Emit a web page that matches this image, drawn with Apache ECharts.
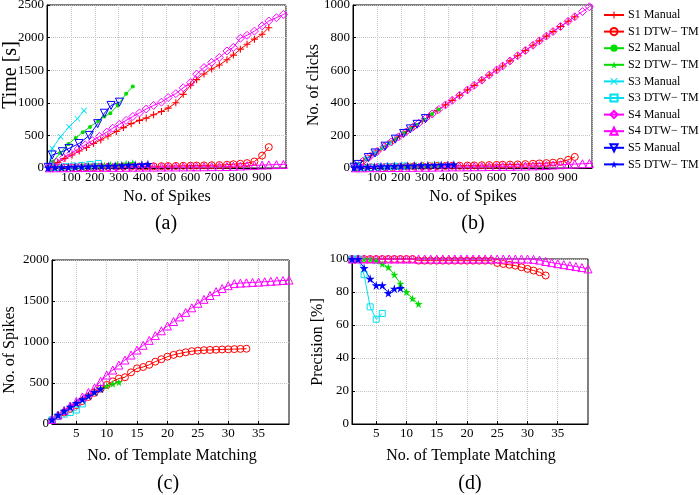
<!DOCTYPE html>
<html>
<head>
<meta charset="utf-8">
<script src="https://cdn.jsdelivr.net/npm/echarts@6/dist/echarts.min.js"></script>
<style>html,body{margin:0;padding:0;background:#fff}#c{width:699px;height:495px}</style>
</head>
<body>
<div id="c"></div>
<script>
// ---------- Panels (a) and (b): x = No. of Spikes ----------
const s1Spikes = [15, 45, 75, 105, 135, 165, 195, 225, 255, 290, 320, 352, 387, 415, 446, 479, 507, 539, 570, 601, 626, 657, 689, 721, 753, 780, 809, 837, 868, 900, 928];
const s1ManualTime = [25, 85, 145, 200, 260, 315, 375, 430, 490, 560, 620, 680, 730, 765, 817, 867, 918, 1000, 1130, 1270, 1355, 1442, 1518, 1579, 1660, 1732, 1823, 1899, 1976, 2052, 2152];
const s1DtwTime = [3, 5, 6, 8, 10, 12, 13, 15, 16, 18, 20, 21, 23, 24, 26, 28, 30, 32, 34, 36, 38, 40, 42, 45, 50, 58, 65, 75, 100, 190, 320];
const s1ManualClicks = [15, 45, 75, 105, 135, 165, 195, 225, 255, 290, 320, 352, 387, 415, 446, 479, 507, 539, 570, 601, 626, 657, 689, 721, 753, 780, 809, 837, 868, 900, 928];
const s1DtwClicks = [2, 3, 4, 5, 6, 7, 8, 9, 10, 10, 11, 12, 13, 14, 14, 15, 16, 17, 18, 19, 20, 21, 22, 24, 26, 28, 30, 33, 38, 50, 68];

const s2Spikes = [25, 55, 90, 120, 150, 180, 214, 240, 265, 296, 331, 359];
const s2ManualTime = [100, 230, 370, 460, 550, 630, 720, 790, 840, 960, 1140, 1250];
const s2DtwTime = [5, 10, 15, 20, 25, 30, 35, 40, 50, 55, 65, 75];
const s2ManualClicks = [25, 55, 90, 120, 150, 180, 214, 240, 265, 296, 331, 359];
const s2DtwClicks = [2, 4, 5, 7, 8, 10, 11, 13, 14, 16, 18, 20];

const s3Spikes = [8, 22, 57, 92, 127, 155];
const s3ManualTime = [40, 300, 480, 630, 755, 880];
const s3ManualClicks = [8, 22, 57, 92, 127, 155];
const s3DtwSpikes = [35, 75, 110, 145, 180, 215];
const s3DtwTime = [10, 20, 30, 40, 55, 70];
const s3DtwClicks = [2, 4, 6, 8, 10, 12];

const s4Spikes = [10, 40, 70, 100, 130, 160, 190, 220, 250, 275, 303, 331, 359, 387, 415, 446, 479, 507, 539, 570, 601, 626, 657, 689, 721, 753, 780, 809, 837, 868, 900, 928, 960, 989, 1020];
const s4ManualTime = [20, 90, 160, 225, 290, 355, 420, 485, 550, 610, 670, 730, 790, 845, 905, 960, 1010, 1080, 1140, 1230, 1310, 1440, 1540, 1620, 1695, 1795, 1850, 1990, 2035, 2100, 2180, 2255, 2305, 2355, 2410];
const s4DtwTime = [2, 3, 4, 5, 6, 7, 8, 9, 10, 10, 11, 12, 12, 13, 14, 14, 15, 16, 16, 17, 18, 18, 19, 20, 21, 23, 26, 30, 35, 40, 45, 48, 52, 55, 58];
const s4ManualClicks = [10, 40, 70, 100, 130, 160, 190, 220, 250, 275, 303, 331, 359, 387, 415, 446, 479, 507, 539, 570, 601, 626, 657, 689, 721, 753, 780, 809, 837, 868, 900, 928, 960, 989, 1020];
const s4DtwClicks = [1, 1, 2, 2, 3, 3, 3, 4, 4, 5, 5, 5, 6, 6, 7, 7, 7, 8, 8, 9, 9, 10, 10, 11, 12, 13, 14, 16, 18, 20, 22, 24, 26, 28, 30];

const s5Spikes = [5, 22, 64, 92, 134, 177, 212, 240, 268, 303];
const s5ManualTime = [10, 200, 250, 300, 375, 500, 680, 840, 960, 1010];
const s5ManualClicks = [5, 22, 64, 92, 134, 177, 212, 240, 268, 303];
const s5DtwSpikes = [5, 33, 61, 89, 117, 145, 173, 201, 229, 257, 285, 313, 341, 369, 397, 422];
const s5DtwTime = [5, 10, 12, 15, 18, 20, 22, 25, 28, 30, 35, 40, 45, 50, 55, 60];
const s5DtwClicks = [3, 5, 7, 8, 10, 11, 12, 13, 14, 15, 16, 17, 18, 19, 20, 21];

// ---------- Panels (c) and (d): x = No. of Template Matching ----------
const tmIdx = [1, 2, 3, 4, 5, 6, 7, 8, 9, 10, 11, 12, 13, 14, 15, 16, 17, 18, 19, 20, 21, 22, 23, 24, 25, 26, 27, 28, 29, 30, 31, 32, 33, 34, 35, 36, 37, 38, 39, 40];
const s1TmSpikes = [50, 95, 140, 185, 230, 280, 330, 380, 430, 476, 520, 555, 570, 630, 679, 695, 722, 760, 790, 821, 843, 860, 875, 888, 894, 900, 903, 906, 909, 911, 913, 916, 918];
const s2TmSpikes = [55, 105, 155, 205, 255, 300, 345, 390, 430, 465, 490, 510];
const s3TmSpikes = [50, 90, 120, 140, 170, 245];
const s4TmSpikes = [55, 110, 165, 220, 275, 330, 385, 440, 520, 597, 658, 719, 780, 841, 902, 960, 1020, 1078, 1137, 1195, 1250, 1306, 1361, 1417, 1472, 1520, 1567, 1614, 1652, 1687, 1712, 1718, 1722, 1726, 1730, 1735, 1740, 1745, 1750, 1755];
const s5TmSpikes = [55, 110, 160, 210, 255, 300, 345, 390, 430];

const s1Precision = [100, 100, 100, 100, 100, 100, 100, 100, 100, 100, 100, 99, 99, 99, 99, 99, 99, 99, 99, 99, 99, 99, 99, 99, 97.6, 97, 96.5, 96, 95, 94, 93, 92, 90];
const s2Precision = [100, 100, 100, 100, 99, 97, 95, 90.5, 85, 80, 76, 72.7];
const s3Precision = [100, 100, 90.5, 71, 63.5, 67];
const s4Precision = [100, 100, 100, 100, 100, 100, 100, 100, 100, 100, 100, 100, 100, 100, 100, 100, 100, 100, 100, 100, 100, 100, 100, 100, 100, 100, 100, 100, 100, 100, 99.8, 99.3, 98.5, 97.8, 97.2, 96.6, 96, 95.4, 94.8, 94];
const s5Precision = [100, 100, 94.5, 88, 84, 84, 79.4, 82, 82.4];

const legendNames = ['S1 Manual', 'S1 DTW\u2212 TM', 'S2 Manual', 'S2 DTW\u2212 TM', 'S3 Manual', 'S3 DTW\u2212 TM', 'S4 Manual', 'S4 DTW\u2212 TM', 'S5 Manual', 'S5 DTW\u2212 TM'];
const xTicksTM = [5, 10, 15, 20, 25, 30, 35];

// ---------- styles ----------
const RED = '#ff0000', GREEN = '#00dd00', CYAN = '#00e0f0', MAG = '#ff00ff', BLUE = '#0000ff';
const PLUS = 'path://M0,4.2h10v1.6h-10z M4.2,0h1.6v10h-1.6z';
const XCROSS = 'path://M1,0L5,4L9,0L10,1L6,5L10,9L9,10L5,6L1,10L0,9L4,5L0,1Z';
const STAR = 'path://M50,0L61,35L98,35L68,57L79,91L50,70L21,91L32,57L2,35L39,35Z';
const sty = {
  'S1 Manual': {c: RED, s: PLUS, z: 7},
  'S1 DTW\u2212 TM': {c: RED, s: 'circle', z: 7, h: true},
  'S2 Manual': {c: GREEN, s: 'circle', z: 4},
  'S2 DTW\u2212 TM': {c: GREEN, s: STAR, z: 8},
  'S3 Manual': {c: CYAN, s: XCROSS, z: 6},
  'S3 DTW\u2212 TM': {c: CYAN, s: 'rect', z: 6, h: true},
  'S4 Manual': {c: MAG, s: 'diamond', z: 8, h: true},
  'S4 DTW\u2212 TM': {c: MAG, s: 'triangle', z: 8, h: true},
  'S5 Manual': {c: BLUE, s: 'triangle', z: 8, h: true, r: 180},
  'S5 DTW\u2212 TM': {c: BLUE, s: STAR, z: 9}
};
function mk(name, gi, xs, ys) {
  const st = sty[name];
  const data = [];
  for (let i = 0; i < ys.length; i++) data.push([xs[i], ys[i]]);
  return {
    name: name, type: 'line', xAxisIndex: gi, yAxisIndex: gi,
    data: data,
    symbol: st.s, symbolSize: st.z, symbolRotate: st.r || 0,
    showSymbol: true, clip: true, animation: false,
    itemStyle: st.h ? {color: 'rgba(255,255,255,0)', borderColor: st.c, borderWidth: 1} : {color: st.c},
    lineStyle: {color: st.c, width: 1},
    emphasis: {disabled: true}
  };
}
const N = legendNames;
const series = [
  // (a)
  mk(N[0], 0, s1Spikes, s1ManualTime), mk(N[1], 0, s1Spikes, s1DtwTime),
  mk(N[2], 0, s2Spikes, s2ManualTime), mk(N[3], 0, s2Spikes, s2DtwTime),
  mk(N[4], 0, s3Spikes, s3ManualTime), mk(N[5], 0, s3DtwSpikes, s3DtwTime),
  mk(N[6], 0, s4Spikes, s4ManualTime), mk(N[7], 0, s4Spikes, s4DtwTime),
  mk(N[8], 0, s5Spikes, s5ManualTime), mk(N[9], 0, s5DtwSpikes, s5DtwTime),
  // (b)
  mk(N[0], 1, s1Spikes, s1ManualClicks), mk(N[1], 1, s1Spikes, s1DtwClicks),
  mk(N[2], 1, s2Spikes, s2ManualClicks), mk(N[3], 1, s2Spikes, s2DtwClicks),
  mk(N[4], 1, s3Spikes, s3ManualClicks), mk(N[5], 1, s3DtwSpikes, s3DtwClicks),
  mk(N[6], 1, s4Spikes, s4ManualClicks), mk(N[7], 1, s4Spikes, s4DtwClicks),
  mk(N[8], 1, s5Spikes, s5ManualClicks), mk(N[9], 1, s5DtwSpikes, s5DtwClicks),
  // (c)
  mk(N[1], 2, tmIdx, s1TmSpikes), mk(N[3], 2, tmIdx, s2TmSpikes),
  mk(N[5], 2, tmIdx, s3TmSpikes), mk(N[7], 2, tmIdx, s4TmSpikes),
  mk(N[9], 2, tmIdx, s5TmSpikes),
  // (d)
  mk(N[1], 3, tmIdx, s1Precision), mk(N[3], 3, tmIdx, s2Precision),
  mk(N[5], 3, tmIdx, s3Precision), mk(N[7], 3, tmIdx, s4Precision),
  mk(N[9], 3, tmIdx, s5Precision)
];

const FONT = 'Liberation Serif';
const lbl = {color: '#000', fontFamily: FONT, fontSize: 13, margin: 3, formatter: v => String(v)};
const split = {show: true, lineStyle: {color: '#c4c4c4', type: 'dotted', width: 1}};
const axLine = {show: true, lineStyle: {color: '#000', width: 1}};
const tick = {show: true, inside: true, length: 3, lineStyle: {color: '#000'}};
function xSpikes(gi) {
  return {gridIndex: gi, type: 'value', min: 0, max: 1000, interval: 100,
    axisLine: axLine, axisTick: tick, splitLine: split,
    axisLabel: Object.assign({}, lbl, {formatter: v => (v === 0 || v === 1000) ? '' : String(v)})};
}
function xTM(gi) {
  return {gridIndex: gi, type: 'value', min: 1, max: 40,
    axisLine: axLine,
    axisTick: Object.assign({}, tick, {customValues: xTicksTM}),
    splitLine: split,
    axisLabel: Object.assign({}, lbl, {customValues: xTicksTM})};
}
function yAx(gi, max, interval) {
  return {gridIndex: gi, type: 'value', min: 0, max: max, interval: interval,
    axisLine: axLine, axisTick: tick, splitLine: split, axisLabel: lbl};
}
function txt(s, x, y, size, rot) {
  return {type: 'text', x: x, y: y, rotation: rot || 0, silent: true,
    style: {text: s, x: 0, y: 0, font: size + 'px "' + FONT + '"', fill: '#000',
      textAlign: 'center', textVerticalAlign: 'middle', align: 'center', verticalAlign: 'middle'}};
}
const gridBase = {show: true, borderColor: '#000', borderWidth: 1, backgroundColor: 'transparent', containLabel: false, outerBoundsMode: 'none'};
const option = {
  backgroundColor: '#fff',
  animation: false,
  grid: [
    Object.assign({left: 47, top: 5, width: 239, height: 163}, gridBase),
    Object.assign({left: 353, top: 5, width: 239, height: 163}, gridBase),
    Object.assign({left: 52, top: 260, width: 237, height: 164}, gridBase),
    Object.assign({left: 352, top: 259, width: 236, height: 165}, gridBase)
  ],
  xAxis: [xSpikes(0), xSpikes(1), xTM(2), xTM(3)],
  yAxis: [yAx(0, 2500, 500), yAx(1, 1000, 200), yAx(2, 2000, 500), yAx(3, 100, 20)],
  legend: {
    data: legendNames, orient: 'vertical', left: 603, top: 9,
    itemWidth: 20, itemHeight: 9, itemGap: 4.6,
    textStyle: {fontFamily: FONT, fontSize: 12, color: '#000', padding: [0, 0, 0, -1]},
    selectedMode: false, padding: 0
  },
  graphic: {elements: [
    txt('Time [s]', 11, 75, 20, Math.PI / 2),
    txt('No. of Spikes', 167, 197, 16),
    txt('(a)', 166, 224, 20),
    txt('No. of clicks', 314, 85, 16, Math.PI / 2),
    txt('No. of Spikes', 473, 197, 16),
    txt('(b)', 473, 224, 20),
    txt('No. of Spikes', 10, 350, 16, Math.PI / 2),
    txt('No. of Template Matching', 172, 456, 16),
    txt('(c)', 168, 484, 20),
    txt('Precision [%]', 318, 342, 16, Math.PI / 2),
    txt('No. of Template Matching', 471, 456, 16),
    txt('(d)', 470, 484, 20)
  ]},
  series: series
};
const chart = echarts.init(document.getElementById('c'), null, {renderer: 'canvas'});
chart.setOption(option);
</script>
</body>
</html>
